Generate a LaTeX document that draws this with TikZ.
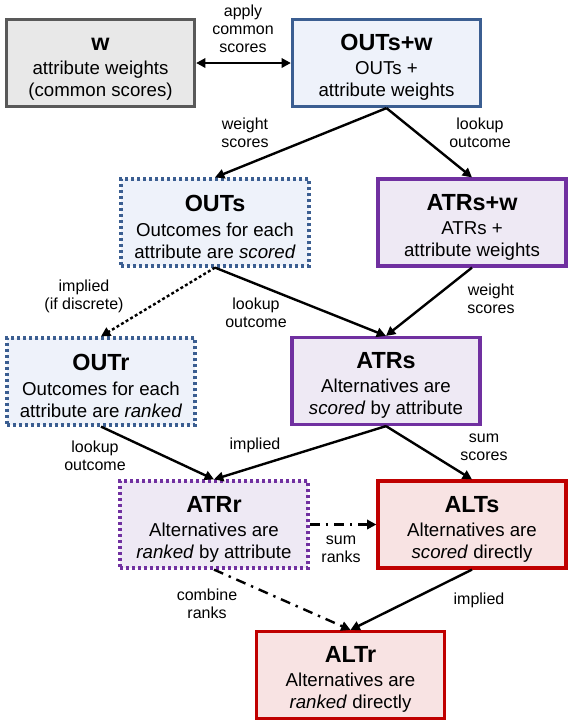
\documentclass[tikz,border=0pt]{standalone}
\usepackage{fontspec}
\setmainfont{Liberation Sans}
\usetikzlibrary{arrows.meta}
\definecolor{wfill}{HTML}{E8E8E8}
\definecolor{wborder}{HTML}{595959}
\definecolor{bfill}{HTML}{EEF2FA}
\definecolor{bborder}{HTML}{3B5E91}
\definecolor{pfill}{HTML}{EEE9F4}
\definecolor{pborder}{HTML}{7030A0}
\definecolor{rfill}{HTML}{F8E3E3}
\definecolor{rborder}{HTML}{C00000}
\newcommand\titlef{\fontsize{17.5}{20}\selectfont\bfseries\rule{0pt}{18.8pt}}
\newcommand\bodyf{\fontsize{14}{16.3}\selectfont}
\newcommand\labf{\fontsize{12}{13.7}\selectfont}
\tikzset{
  box/.style={rectangle, minimum width=141pt, minimum height=65.25pt, inner sep=0pt,
    align=center, font=\bodyf, line width=2.4pt},
  boxgray/.style={box, draw=wborder, fill=wfill},
  boxblue/.style={box, draw=bborder, fill=bfill},
  boxbluedot/.style={boxblue, line width=2.4pt, dash pattern=on 2.3pt off 2.2pt},
  boxpurple/.style={box, draw=pborder, fill=pfill},
  boxpurpledot/.style={boxpurple, line width=2.4pt, dash pattern=on 2.3pt off 2.2pt},
  boxred/.style={box, draw=rborder, fill=rfill},
  arr/.style={draw, line width=1.8pt, -{Triangle[length=7pt,width=7pt]}},
  arrdot/.style={arr, dash pattern=on 2.2pt off 1.8pt},
  arrdashdot/.style={arr, dash pattern=on 7.5pt off 4.5pt on 1.8pt off 4.5pt},
  lab/.style={font=\labf, align=center, inner sep=0pt}
}
\begin{document}
\begin{tikzpicture}[x=0.75pt, y=-0.75pt]
\useasboundingbox (0,0) rectangle (571,726);
% boxes
\node[boxgray] (w) at (100.5,63) {{\titlef w}\\[2pt]attribute weights\\(common scores)};
\node[boxblue] (outsw) at (386.5,63) {{\titlef OUTs+w}\\[2pt]OUTs +\\attribute weights};
\node[boxbluedot] (outs) at (215,222.5) {{\titlef OUTs}\\[2pt]Outcomes for each\\attribute are \textit{scored}};
\node[boxpurple] (atrsw) at (472,222.5) {{\titlef ATRs+w}\\[2pt]ATRs +\\attribute weights};
\node[boxbluedot] (outr) at (101,381.5) {{\titlef OUTr}\\[2pt]Outcomes for each\\attribute are \textit{ranked}};
\node[boxpurple] (atrs) at (386,381) {{\titlef ATRs}\\[2pt]Alternatives are\\\textit{scored} by attribute};
\node[boxpurpledot] (atrr) at (214,524.5) {{\titlef ATRr}\\[2pt]Alternatives are\\\textit{ranked} by attribute};
\node[boxred] (alts) at (472,524.5) {{\titlef ALTs}\\[2pt]Alternatives are\\\textit{scored} directly};
\node[boxred] (altr) at (350.5,675) {{\titlef ALTr}\\[2pt]Alternatives are\\\textit{ranked} directly};
% connectors
\draw[arr, {Triangle[length=7pt,width=7pt]}-{Triangle[length=7pt,width=7pt]}] (w.east) -- (outsw.west);
\draw[arr] (outsw.south) -- (outs.north);
\draw[arr] (outsw.south) -- (atrsw.north);
\draw[arrdot] (outs.south) -- (outr.north);
\draw[arr] (outs.south) -- (atrs.north);
\draw[arr] (atrsw.south) -- (atrs.north);
\draw[arr] (outr.south) -- (atrr.north);
\draw[arr] (atrs.south) -- (atrr.north);
\draw[arr] (atrs.south) -- (alts.north);
\draw[arrdashdot] (atrr.east) -- (alts.west);
\draw[arrdashdot] (atrr.south) -- (altr.north);
\draw[arr] (alts.south) -- (altr.north);
% labels
\node[lab] (l1) at (243,29) {apply\\common\\scores};
\node[lab] (l2) at (245,133) {weight\\scores};
\node[lab] (l3) at (480,133) {lookup\\outcome};
\node[lab] (l4) at (84,296) {implied\\(if discrete)};
\node[lab] (l5) at (256,313) {lookup\\outcome};
\node[lab] (l6) at (491,299) {weight\\scores};
\node[lab] (l7) at (95,456) {lookup\\outcome};
\node[lab] (l8) at (255,445) {implied};
\node[lab] (l9) at (484,447) {sum\\scores};
\node[lab] (l10) at (341,549) {sum\\ranks};
\node[lab] (l11) at (207,604) {combine\\ranks};
\node[lab] (l12) at (479,600) {implied};
\end{tikzpicture}
\end{document}
